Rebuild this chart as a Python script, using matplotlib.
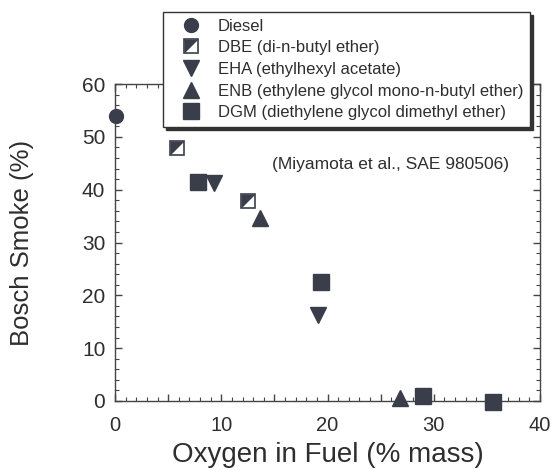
import matplotlib
matplotlib.use("Agg")
import matplotlib.pyplot as plt
from matplotlib.ticker import MultipleLocator

plt.rcParams['font.family'] = ['Liberation Sans', 'DejaVu Sans']

# data (oxygen % mass, Bosch smoke %)
diesel_x = [0.1]
diesel_y = [53.9]
dbe_x = [5.8, 12.5]
dbe_y = [47.9, 37.8]
eha_x = [9.3, 19.1]
eha_y = [41.2, 16.2]
enb_x = [13.6, 26.8]
enb_y = [34.6, 0.6]
dgm_x = [7.8, 19.35, 29.0, 35.6]
dgm_y = [41.5, 22.6, 1.0, -0.2]

legend_labels = ["Diesel", "DBE (di-n-butyl ether)", "EHA (ethylhexyl acetate)",
                 "ENB (ethylene glycol mono-n-butyl ether)",
                 "DGM (diethylene glycol dimethyl ether)"]

dark = '#3a3e4a'
txt = '#2e2e2e'

fig = plt.figure(figsize=(5.55, 4.70), dpi=100)
ax = fig.add_axes([115/555, 1-401/470, 425/555, 317/470])

h1, = ax.plot(diesel_x, diesel_y, 'o', ms=10, color=dark, clip_on=False, zorder=5)

# DBE: square, upper-left half dark
ax.plot(dbe_x, dbe_y, 's', ms=10, mfc='white', mec=dark, mew=1.2, clip_on=False, zorder=5)
half = [(-1, -1), (-1, 1), (1, 1), (-1, -1)]
ax.plot(dbe_x, dbe_y, marker=half, ls='none', ms=10, color=dark, mew=0, clip_on=False, zorder=6)
h2, = plt.plot([], [], 's', ms=10, mfc='white', mec=dark, mew=1.2)
h2b, = plt.plot([], [], marker=half, ls='none', ms=10, color=dark, mew=0)

h3, = ax.plot(eha_x, eha_y, 'v', ms=12, color=dark, clip_on=False, zorder=5)
h4, = ax.plot(enb_x, enb_y, '^', ms=12, color=dark, clip_on=False, zorder=5)
h5, = ax.plot(dgm_x, dgm_y, 's', ms=11, color=dark, clip_on=False, zorder=5)

ax.set_xlim(0, 40)
ax.set_ylim(0, 60)
ax.set_xticks([0, 5, 10, 15, 20, 25, 30, 35, 40])
ax.set_xticklabels(['0', '', '10', '', '20', '', '30', '', '40'])
ax.xaxis.set_minor_locator(MultipleLocator(1))
ax.yaxis.set_major_locator(MultipleLocator(10))
ax.yaxis.set_minor_locator(MultipleLocator(2))

ax.tick_params(which='both', direction='in', top=True, right=True, color='#444444',
               labelcolor=txt)
ax.tick_params(axis='x', which='both', pad=11, labelsize=14.5)
ax.tick_params(axis='y', which='both', pad=7, labelsize=15)
ax.tick_params(which='major', length=5, width=1)
ax.tick_params(which='minor', length=3, width=0.8)
for s in ax.spines.values():
    s.set_color('#444444')
    s.set_linewidth(1.0)

ax.set_xlabel("Oxygen in Fuel (% mass)", fontsize=20, color=txt)
ax.set_ylabel("Bosch Smoke (%)", fontsize=18.5, color=txt)
ax.xaxis.set_label_coords(0.5, -0.13)
ax.yaxis.set_label_coords(-0.19, 0.5)

ax.text(25.9, 44.7, "(Miyamota et al., SAE 980506)", fontsize=12.5, color=txt,
        ha='center', va='center')

leg = fig.legend([h1, (h2, h2b), h3, h4, h5], legend_labels,
                 loc='upper left', bbox_to_anchor=(163/555, 1-12/470),
                 bbox_transform=fig.transFigure, borderaxespad=0,
                 fontsize=12, frameon=True, fancybox=False,
                 shadow={'color': '#333333', 'alpha': 1},
                 edgecolor='#333333', labelspacing=0.4, handletextpad=0.3,
                 borderpad=0.4, handlelength=2.6)
leg.get_frame().set_linewidth(1.0)
for t in leg.get_texts():
    t.set_color(txt)

fig.savefig("out.png", dpi=100)
